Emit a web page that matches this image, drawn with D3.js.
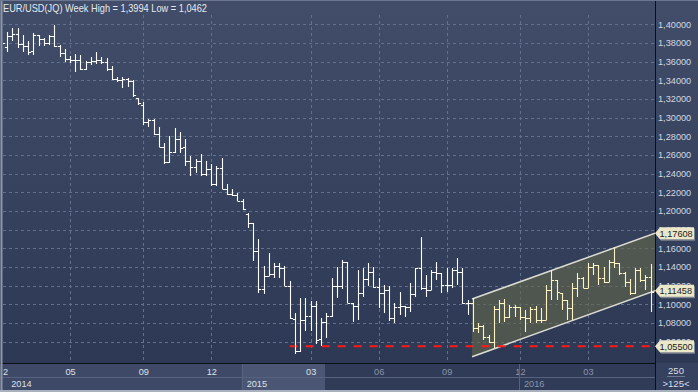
<!DOCTYPE html>
<html>
<head>
<meta charset="utf-8">
<script src="https://cdnjs.cloudflare.com/ajax/libs/d3/7.8.5/d3.min.js"></script>
<style>
  body { margin: 0; background: #2c3854; }
  svg { display: block; font-family: "Liberation Sans", Arial, sans-serif; }
</style>
</head>
<body>
<svg id="chart" width="698" height="392"></svg>
<script>
// weekly OHLC
var opens = [1.378,1.376,1.387,1.390,1.379,1.377,1.371,1.388,1.384,1.380,1.387,1.377,1.369,
  1.363,1.362,1.362,1.352,1.360,1.361,1.362,1.360,1.352,1.341,1.340,1.341,1.339,1.321,1.313,1.295,1.297,1.282,
  1.269,1.252,1.263,1.277,1.268,1.2536,1.2475,1.2536,1.2393,1.2454,1.2286,1.2464,1.2232,1.218,1.2168,1.2107,
  1.197,1.1875,1.157,1.116,1.130,1.132,1.141,1.139,1.1197,1.0847,1.050,1.0833,1.0876,1.0983,1.0626,1.081,
  1.0876,1.1197,1.1197,1.1448,1.101,1.0982,1.1118,1.1268,1.135,1.118,1.1118,1.1154,1.085,1.0975,1.0983,1.0968,
  1.1111,1.1386,1.1172,1.1154,1.135,1.1332,1.1207,1.1207,1.1368,1.135,1.1011,
  1.1011,1.0743,1.0768,1.0654,1.0600,1.0947,1.1018,1.0868,1.0968,1.0968,1.0868,1.0850,1.0947,1.0833,1.0833,
  1.1154,1.1261,1.1118,1.1047,1.0957,1.1172,1.1279,1.1172,1.1404,1.1422,1.1279,1.1243,1.1457,1.1439,1.1332,
  1.1243,1.1120,1.1368,1.1261,1.1290];
var highs = [1.384,1.392,1.396,1.396,1.388,1.382,1.391,1.389,1.385,1.389,1.3994,1.378,1.373,
  1.366,1.368,1.367,1.361,1.365,1.370,1.365,1.364,1.355,1.344,1.343,1.342,1.340,1.321,1.317,1.299,1.299,1.290,
  1.2732,1.2804,1.2893,1.2846,1.2775,1.259,1.2554,1.2607,1.2536,1.250,1.2482,1.2571,1.2286,1.2232,1.2197,1.2125,
  1.1982,1.1875,1.1697,1.141,1.1547,1.1447,1.1447,1.141,1.125,1.0911,1.1072,1.1072,1.1036,1.1036,1.0858,1.0911,
  1.1286,1.1404,1.1475,1.1457,1.101,1.1368,1.1386,1.1447,1.1404,1.1286,1.1207,1.1197,1.1018,1.1136,1.0983,1.1225,
  1.1386,1.1725,1.1315,1.1368,1.1457,1.1340,1.1386,1.1386,1.1493,1.1386,1.1047,
  1.1065,1.0800,1.0780,1.0670,1.0982,1.1047,1.1054,1.0993,1.0993,1.0975,1.0940,1.0975,1.0982,1.0957,1.1207,
  1.1368,1.1261,1.1118,1.1047,1.1225,1.1332,1.1297,1.1439,1.1447,1.1422,1.1404,1.1475,1.1616,1.1439,1.1350,
  1.1270,1.1390,1.1390,1.1315,1.1427];
var lows = [1.372,1.370,1.382,1.375,1.370,1.367,1.367,1.377,1.377,1.378,1.376,1.365,1.360,
  1.358,1.349,1.351,1.351,1.356,1.357,1.357,1.350,1.340,1.338,1.332,1.333,1.322,1.313,1.292,1.290,1.281,1.2686,
  1.2508,1.2518,1.2625,1.2625,1.2482,1.2375,1.241,1.2375,1.2375,1.2268,1.2268,1.2232,1.2168,1.2161,1.2107,1.2011,
  1.182,1.1465,1.1125,1.1107,1.1304,1.1286,1.1286,1.1197,1.084,1.0462,1.049,1.0715,1.0715,1.0572,1.0554,1.0643,
  1.0868,1.1065,1.116,1.1011,1.0815,1.0833,1.1082,1.1197,1.1172,1.0958,1.0904,1.0825,1.0804,1.0886,1.0861,1.0922,
  1.1082,1.1154,1.1082,1.1154,1.1261,1.1118,1.1136,1.1172,1.1207,1.1004,1.0886,
  1.0708,1.0690,1.0618,1.0583,1.0529,1.0797,1.0815,1.0850,1.0868,1.0833,1.0707,1.0797,1.0797,1.0797,1.0833,
  1.1047,1.1047,1.0940,1.0833,1.0833,1.1082,1.1172,1.1170,1.1314,1.1207,1.1225,1.1243,1.1386,1.1314,1.1189,
  1.1100,1.1115,1.1240,1.1150,1.0915];
var closes = [1.380,1.387,1.390,1.379,1.377,1.370,1.388,1.384,1.380,1.387,1.377,1.369,1.363,
  1.362,1.362,1.352,1.360,1.361,1.362,1.360,1.352,1.341,1.340,1.341,1.339,1.324,1.316,1.295,1.297,1.282,1.2686,
  1.252,1.2632,1.2768,1.2679,1.2536,1.2475,1.2536,1.2393,1.2454,1.2286,1.2464,1.2232,1.2179,1.2168,1.2107,1.2018,
  1.1875,1.1572,1.1161,1.1304,1.1322,1.1411,1.1393,1.1197,1.0858,1.050,1.0833,1.0876,1.0983,1.0619,1.0811,1.0876,
  1.1197,1.1197,1.1448,1.101,1.0982,1.1118,1.1268,1.135,1.118,1.1118,1.1154,1.085,1.0975,1.0983,1.0968,1.1111,
  1.1386,1.1172,1.1154,1.135,1.1332,1.1207,1.1207,1.1368,1.135,1.1011,1.1011,
  1.0743,1.0768,1.0654,1.0600,1.0947,1.1018,1.0868,1.0968,1.0968,1.0868,1.0850,1.0947,1.0833,1.0833,1.1154,
  1.1261,1.1136,1.1047,1.0957,1.1172,1.1279,1.1172,1.1404,1.1422,1.1279,1.1243,1.1457,1.1439,1.1332,1.1243,
  1.1120,1.1368,1.1261,1.1290,1.1136];

var priceTicks = [1.40,1.38,1.36,1.34,1.32,1.30,1.28,1.26,1.24,1.22,1.20,1.18,1.16,1.14,1.12,1.10,1.08,1.06];
var monthLabels = ["2","05","09","12","03","06","09","12","03"];
var monthBars = [0,13,27,40,59,72,85,99,112];
var yearLabels = ["2014","2015","2016"];
var yearBars = [1,46,99];

// trend channel (bar index, upper, lower)
var channelBars = [89.85, 124.83];
var channelUpper = [1.1056, 1.17608];
var channelLower = [1.0437, 1.11458];
var channelFirstBar = 90;
var supportLevel = 1.055, supportFromBar = 55;
var tagValues = [1.17608, 1.11458, 1.05500];

var W = 698, H = 392, plotL = 3, plotR = 655, plotB = 363;
var svg = d3.select("#chart");

var x = d3.scaleLinear().domain([0, 124]).range([2, 650.7]);
var y = d3.scaleLinear().domain([1.40, 1.06]).range([24.3, 341.6]);
var fmt = function(d){ return d3.format(".5f")(d).replace(".", ","); };

var defs = svg.append("defs");
var grad = defs.append("linearGradient").attr("id", "bg").attr("x1", 0).attr("y1", 0).attr("x2", 0).attr("y2", 1);
grad.append("stop").attr("offset", "0%").attr("stop-color", "#414d69");
grad.append("stop").attr("offset", "100%").attr("stop-color", "#2c3854");
defs.append("clipPath").attr("id", "plotclip").append("rect")
  .attr("x", plotL).attr("y", 0).attr("width", plotR - plotL).attr("height", plotB);

// backgrounds
svg.append("rect").attr("x", 0).attr("y", 0).attr("width", W).attr("height", plotB).attr("fill", "url(#bg)");
svg.append("rect").attr("x", 0).attr("y", plotB).attr("width", W).attr("height", H - plotB).attr("fill", "#3d4966");
svg.append("rect").attr("x", x(yearBars[1]) - 1).attr("y", plotB).attr("width", 325 - x(yearBars[1]) + 1)
  .attr("height", 27).attr("fill", "#4a5673");
svg.append("rect").attr("x", 325).attr("y", plotB).attr("width", plotR - 325).attr("height", 27).attr("fill", "#2f3b57");
svg.append("rect").attr("x", plotR).attr("y", plotB).attr("width", W - plotR).attr("height", 27).attr("fill", "#35415e");
svg.append("line").attr("x1", 0).attr("x2", plotR).attr("y1", 377.5).attr("y2", 377.5)
  .attr("stroke", "#56627e").attr("stroke-width", 1);
svg.append("rect").attr("x", 0).attr("y", 390).attr("width", W).attr("height", 2).attr("fill", "#a9b1bf");

var plot = svg.append("g").attr("clip-path", "url(#plotclip)");

// grid
plot.selectAll(".hgrid").data(priceTicks).enter().append("line")
  .attr("class", "hgrid")
  .attr("x1", plotL).attr("x2", plotR)
  .attr("y1", function(d){ return Math.round(y(d)) + 0.5; })
  .attr("y2", function(d){ return Math.round(y(d)) + 0.5; })
  .attr("stroke", "#61708e").attr("stroke-dasharray", "3,3").attr("stroke-width", 1);
plot.selectAll(".vgrid").data(monthBars).enter().append("line")
  .attr("class", "vgrid")
  .attr("x1", function(d){ return Math.round(x(d)) + 0.5; })
  .attr("x2", function(d){ return Math.round(x(d)) + 0.5; })
  .attr("y1", 15).attr("y2", plotB)
  .attr("stroke", "#61708e").attr("stroke-dasharray", "3,3").attr("stroke-width", 1);

// channel
var chPoly = [
  [x(channelBars[0]), y(channelUpper[0])], [x(channelBars[1]), y(channelUpper[1])],
  [x(channelBars[1]), y(channelLower[1])], [x(channelBars[0]), y(channelLower[0])]
];
plot.append("path").attr("d", "M" + chPoly.join("L") + "Z")
  .attr("fill", "rgb(98,104,74)").attr("fill-opacity", 0.62);
plot.append("line")
  .attr("x1", x(channelBars[0])).attr("y1", y(channelUpper[0]))
  .attr("x2", x(channelBars[1])).attr("y2", y(channelUpper[1]))
  .attr("stroke", "#dcdcd4").attr("stroke-width", 1.5);
plot.append("line")
  .attr("x1", x(channelBars[0])).attr("y1", y(channelLower[0]))
  .attr("x2", x(channelBars[1])).attr("y2", y(channelLower[1]))
  .attr("stroke", "#dcdcd4").attr("stroke-width", 1.5);

// support line
plot.append("line")
  .attr("x1", x(supportFromBar)).attr("x2", plotR)
  .attr("y1", y(supportLevel)).attr("y2", y(supportLevel))
  .attr("stroke", "#ff1a1a").attr("stroke-width", 2).attr("stroke-dasharray", "8,8");

// OHLC bars
var half = 2.6;
plot.selectAll(".bar").data(d3.range(opens.length)).enter().append("path")
  .attr("class", "bar")
  .attr("d", function(i){
    var cx = Math.round(x(i)) + 0.5;
    var yo = Math.round(y(opens[i])) + 0.5, yc = Math.round(y(closes[i])) + 0.5;
    return "M" + cx + "," + Math.round(y(highs[i])) + "V" + Math.round(y(lows[i])) +
      "M" + (cx - half) + "," + yo + "H" + cx +
      "M" + cx + "," + yc + "H" + (cx + half);
  })
  .attr("fill", "none")
  .attr("stroke", function(i){ return i >= channelFirstBar ? "#fff3c2" : "#ffffff"; })
  .attr("stroke-width", 1.1);

// title
svg.append("text").attr("x", 3).attr("y", 12)
  .attr("font-size", 10.5).attr("fill", "#e6eaf0")
  .attr("textLength", 204).attr("lengthAdjust", "spacingAndGlyphs")
  .text("EUR/USD(JQ) Week High = 1,3994 Low = 1,0462");

// right price axis
var yAxis = d3.axisRight(y).tickValues(priceTicks).tickSize(0).tickPadding(3).tickFormat(fmt);
var ya = svg.append("g").attr("transform", "translate(" + plotR + ",0)").call(yAxis);
ya.select(".domain").remove();
ya.selectAll("text").attr("fill", "#d2d8e2").attr("font-size", 9.2)
  .attr("font-family", "'Liberation Sans', Arial, sans-serif");

// bottom time axis
var xAxis = d3.axisBottom(x).tickValues(monthBars).tickSize(0).tickPadding(5)
  .tickFormat(function(d, k){ return monthLabels[k]; });
var xa = svg.append("g").attr("transform", "translate(0," + plotB + ")").call(xAxis);
xa.select(".domain").remove();
xa.selectAll("text").attr("font-size", 9.2)
  .attr("font-family", "'Liberation Sans', Arial, sans-serif")
  .attr("dx", function(d, k){ return k === 0 ? 3 : 0; })
  .attr("fill", function(d){ return x(d) < 325 ? "#dde2ea" : "#8a95ab"; });

svg.selectAll(".year").data(yearLabels).enter().append("text")
  .attr("class", "year")
  .attr("x", function(d, k){ return x(yearBars[k]) + 4; })
  .attr("y", 387)
  .attr("font-size", 9.2)
  .attr("fill", function(d, k){ return x(yearBars[k]) < 325 ? "#dde2ea" : "#8a95ab"; })
  .text(function(d){ return d; });
svg.selectAll(".ysep").data(yearBars.slice(1)).enter().append("line")
  .attr("class", "ysep")
  .attr("x1", function(d){ return Math.round(x(d)) - 0.5; })
  .attr("x2", function(d){ return Math.round(x(d)) - 0.5; })
  .attr("y1", plotB).attr("y2", 390)
  .attr("stroke", "#56627e");

// frame lines
svg.append("line").attr("x1", 0).attr("x2", plotR).attr("y1", plotB + 0.5).attr("y2", plotB + 0.5)
  .attr("stroke", "#0b0f18").attr("stroke-width", 1);
svg.append("line").attr("x1", plotR + 0.5).attr("x2", plotR + 0.5).attr("y1", 0).attr("y2", 390)
  .attr("stroke", "#0b0f18").attr("stroke-width", 1);
svg.append("line").attr("x1", 1.5).attr("x2", 1.5).attr("y1", 0).attr("y2", 390)
  .attr("stroke", "#8d97a8").attr("stroke-width", 2);
svg.append("line").attr("x1", 0).attr("x2", W).attr("y1", 0.5).attr("y2", 0.5)
  .attr("stroke", "#6b7690").attr("stroke-width", 1);

// price tags
var tags = svg.selectAll(".tag").data(tagValues).enter().append("g").attr("class", "tag")
  .attr("transform", function(d){ return "translate(" + plotR + "," + y(d) + ")"; });
var tagPath = "M0,0L5,-6H39V6H5Z";
tags.append("path").attr("d", tagPath).attr("transform", "translate(1,1.5)").attr("fill", "#7d8390");
tags.append("path").attr("d", tagPath).attr("fill", "#ebe7c9");
tags.append("text").attr("x", 4.5).attr("y", 3.4).attr("font-size", 9.2).attr("fill", "#1c1c1c")
  .text(function(d){ return fmt(d); });

// bottom-right counter
svg.append("text").attr("x", 676).attr("y", 373.5).attr("text-anchor", "middle")
  .attr("font-size", 9.5).attr("fill", "#d8dde6").text("250");
svg.append("line").attr("x1", 667).attr("x2", 685).attr("y1", 376.5).attr("y2", 376.5)
  .attr("stroke", "#6d7892");
svg.append("text").attr("x", 676).attr("y", 387).attr("text-anchor", "middle")
  .attr("font-size", 9.5).attr("fill", "#d8dde6").text(">125<");
</script>
</body>
</html>
